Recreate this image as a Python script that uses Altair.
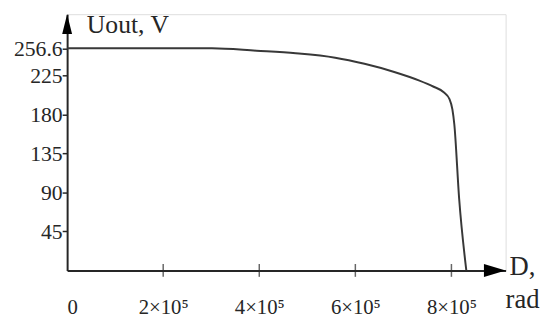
import altair as alt
import pandas as pd

# Curve values
d_vals = [0, 1.5e5, 3.015e5, 3.94e5, 4.76e5, 5.58e5, 6.19e5, 6.81e5, 7.32e5, 7.63e5, 7.84e5, 7.96e5, 8.02e5, 8.06e5, 8.16e5, 8.31e5]
u_vals = [256.6, 256.6, 256.6, 253.8, 250.9, 245.8, 238.7, 229.3, 219.6, 212.2, 205.9, 198.0, 186.0, 168.9, 83.4, 0]

x_ticks = [0, 2e5, 4e5, 6e5, 8e5]
x_marks = [2e5, 4e5, 6e5, 8e5]
y_ticks = [45, 90, 135, 180, 225, 256.6]

X_MAX = 9.128e5
Y_MAX = 296

df = pd.DataFrame({"D": d_vals, "U": u_vals})

FONT = "Liberation Serif"
INK = "#262626"
LINE = "#383838"

xscale = alt.Scale(domain=[0, X_MAX], nice=False, zero=False)
yscale = alt.Scale(domain=[0, Y_MAX], nice=False, zero=False)

line = alt.Chart(df).mark_line(color=LINE, strokeWidth=2, interpolate="monotone").encode(
    x=alt.X("D:Q", scale=xscale,
            axis=alt.Axis(values=x_ticks, title=None, grid=False, domainColor=INK, domainWidth=2,
                          ticks=False, labelFont=FONT, labelFontSize=21,
                          labelColor=INK, labelPadding=27,
                          labelExpr="datum.value == 0 ? '\u00a0\u00a0\u00a00' : (datum.value/100000) + '×10⁵'")),
    y=alt.Y("U:Q", scale=yscale,
            axis=alt.Axis(values=y_ticks, title=None, grid=False, domainColor=INK, domainWidth=2,
                          tickColor=INK, tickWidth=1.5, tickSize=5, labelFont=FONT, labelFontSize=22,
                          labelColor=INK, labelPadding=0,
                          labelExpr="datum.value == 256.6 ? '256.6' : datum.value")),
)

xt = alt.Chart(pd.DataFrame({"D": x_marks, "U": [0] * len(x_marks)})).mark_tick(
    orient="vertical", color=INK, size=13, thickness=1.5).encode(
    x=alt.X("D:Q", scale=xscale), y=alt.Y("U:Q", scale=yscale))

up_arrow = alt.Chart(pd.DataFrame({"D": [0], "U": [Y_MAX]})).mark_point(
    filled=True, color="black", size=400, opacity=1, shape="M0,0L0.5,2L-0.5,2Z").encode(
    x=alt.X("D:Q", scale=xscale), y=alt.Y("U:Q", scale=yscale))

right_arrow = alt.Chart(pd.DataFrame({"D": [X_MAX], "U": [0]})).mark_point(
    filled=True, color="black", size=484, opacity=1, shape="M0,0L-2,-0.6L-2,0.6Z").encode(
    x=alt.X("D:Q", scale=xscale), y=alt.Y("U:Q", scale=yscale))

ytitle = alt.Chart(pd.DataFrame({"t": ["Uout, V"]})).mark_text(
    font=FONT, fontSize=26, color=INK, align="left", baseline="alphabetic").encode(
    text="t:N", x=alt.value(20), y=alt.value(19))

dl = alt.Chart(pd.DataFrame({"t": ["D,"]})).mark_text(
    font=FONT, fontSize=27, color=INK, align="left", baseline="alphabetic").encode(
    text="t:N", x=alt.value(449), y=alt.value(265))
rad = alt.Chart(pd.DataFrame({"t": ["rad"]})).mark_text(
    font=FONT, fontSize=27, color=INK, align="left", baseline="alphabetic").encode(
    text="t:N", x=alt.value(445), y=alt.value(298))

chart = alt.layer(line, xt, up_arrow, right_arrow, ytitle, dl, rad).properties(
    width=445, height=260,
    autosize=alt.AutoSizeParams(type="none"),
    padding={"left": 60, "top": 4, "right": 42, "bottom": 48},
).configure_view(stroke=None).configure(background="white")

chart.save("out.html", embed_options={"renderer": "svg", "actions": False})
